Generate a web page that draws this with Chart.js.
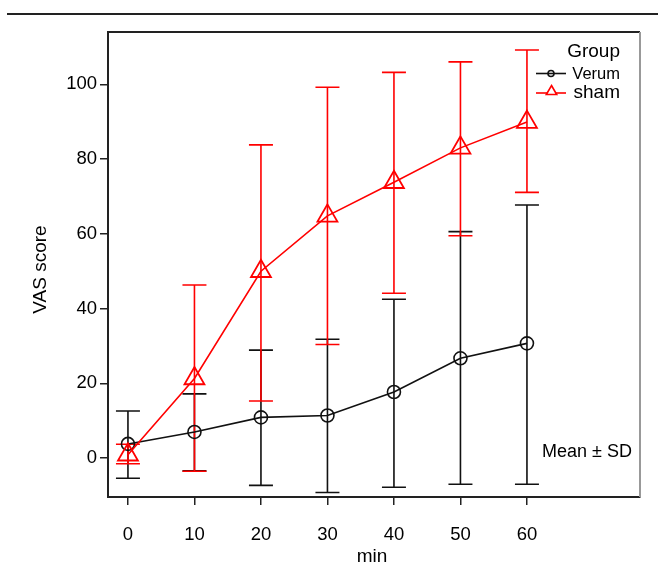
<!DOCTYPE html>
<html>
<head>
<meta charset="utf-8">
<script src="https://cdn.jsdelivr.net/npm/chart.js@4.4.1/dist/chart.umd.min.js"></script>
<style>
  html, body { margin: 0; padding: 0; background: #fff; }
  canvas { display: block; }
</style>
</head>
<body>
<canvas id="myChart" width="658" height="567"></canvas>
<script>
// time points (min) and tick labels
const minutes = [0, 10, 20, 30, 40, 50, 60];
const xTicks = [0, 10, 20, 30, 40, 50, 60];
const yTicks = [0, 20, 40, 60, 80, 100];

// Verum group: mean, mean+SD, mean-SD
const verumMean  = [3.8, 7.0, 10.9, 11.4, 17.7, 26.7, 30.7];
const verumUpper = [12.6, 17.2, 28.9, 31.8, 42.5, 60.6, 67.7];
const verumLower = [-5.4, -3.4, -7.3, -9.2, -7.8, -7.0, -7.0];

// sham group
const shamMean  = [0.9, 21.3, 50.0, 64.8, 73.8, 83.0, 89.9];
const shamUpper = [3.7, 46.3, 83.8, 99.2, 103.2, 106.0, 109.2];
const shamLower = [-1.5, -3.5, 15.3, 30.4, 44.1, 59.5, 71.1];

const FONT = '"Liberation Sans", Arial, sans-serif';
const BLACK = '#111';
const RED = '#ff0000';

function points(xs, ys) {
  return xs.map((x, i) => ({ x: x, y: ys[i] }));
}

// error bars + frame + titles + legend
const extras = {
  id: 'extras',
  beforeDatasetsDraw(chart) {
    const ctx = chart.ctx;
    const xs = chart.scales.x, ys = chart.scales.y;
    const groups = [
      { up: verumUpper, lo: verumLower, color: BLACK },
      { up: shamUpper, lo: shamLower, color: RED }
    ];
    ctx.save();
    ctx.lineWidth = 1.6;
    groups.forEach(g => {
      ctx.strokeStyle = g.color;
      minutes.forEach((m, i) => {
        const px = xs.getPixelForValue(m);
        const pu = ys.getPixelForValue(g.up[i]);
        const pl = ys.getPixelForValue(g.lo[i]);
        ctx.beginPath();
        ctx.moveTo(px, pu); ctx.lineTo(px, pl);
        ctx.moveTo(px - 12, pu); ctx.lineTo(px + 12, pu);
        ctx.moveTo(px - 12, pl); ctx.lineTo(px + 12, pl);
        ctx.stroke();
      });
    });
    ctx.restore();
  },
  afterDraw(chart) {
    const ctx = chart.ctx;
    const a = chart.chartArea;
    ctx.save();
    // rule at top of figure
    ctx.strokeStyle = '#222';
    ctx.lineWidth = 2;
    ctx.beginPath();
    ctx.moveTo(7, 14); ctx.lineTo(658, 14);
    ctx.stroke();
    // frame top and right
    ctx.beginPath();
    ctx.moveTo(a.left, a.top); ctx.lineTo(a.right, a.top);
    ctx.stroke();
    ctx.strokeStyle = '#999';
    ctx.beginPath();
    ctx.moveTo(a.right, a.top); ctx.lineTo(a.right, a.bottom);
    ctx.stroke();

    // axis titles
    ctx.fillStyle = '#000';
    ctx.font = '19px ' + FONT;
    ctx.textAlign = 'center';
    ctx.textBaseline = 'middle';
    ctx.fillText('min', (a.left + a.right) / 2 - 2, 557);
    ctx.save();
    ctx.translate(41, (a.top + a.bottom) / 2 + 5);
    ctx.rotate(-Math.PI / 2);
    ctx.fillText('VAS score', 0, 0);
    ctx.restore();

    // note
    ctx.font = '18px ' + FONT;
    ctx.textAlign = 'right';
    ctx.fillText('Mean \u00b1 SD', 632, 452);

    // legend
    ctx.font = '19px ' + FONT;
    ctx.fillText('Group', 620, 52);
    ctx.font = '16.5px ' + FONT;
    ctx.fillText('Verum', 620, 74);
    ctx.font = '19px ' + FONT;
    ctx.fillText('sham', 620, 93);

    ctx.lineWidth = 1.6;
    ctx.strokeStyle = BLACK;
    ctx.beginPath();
    ctx.moveTo(536, 73.5); ctx.lineTo(566, 73.5);
    ctx.stroke();
    ctx.beginPath();
    ctx.arc(551, 73.5, 3, 0, Math.PI * 2);
    ctx.stroke();

    ctx.strokeStyle = RED;
    ctx.beginPath();
    ctx.moveTo(536, 93); ctx.lineTo(566, 93);
    ctx.stroke();
    const r = 6, cx = 551.5, cy = 91.5;
    ctx.beginPath();
    ctx.moveTo(cx, cy - r);
    ctx.lineTo(cx + r * Math.sqrt(3) / 2, cy + r / 2);
    ctx.lineTo(cx - r * Math.sqrt(3) / 2, cy + r / 2);
    ctx.closePath();
    ctx.fillStyle = '#fff';
    ctx.fill();
    ctx.stroke();
    ctx.restore();
  }
};

const ctx = document.getElementById('myChart');

new Chart(ctx, {
  type: 'line',
  data: {
    datasets: [
      {
        label: 'sham',
        data: points(minutes, shamMean),
        borderColor: RED,
        borderWidth: 1.6,
        pointStyle: 'triangle',
        pointRadius: 11.5,
        pointBorderWidth: 1.8,
        pointBorderColor: RED,
        pointBackgroundColor: 'rgba(0,0,0,0)',
        tension: 0
      },
      {
        label: 'Verum',
        data: points(minutes, verumMean),
        borderColor: BLACK,
        borderWidth: 1.6,
        pointStyle: 'circle',
        pointRadius: 6.5,
        pointBorderWidth: 1.6,
        pointBorderColor: BLACK,
        pointBackgroundColor: 'rgba(0,0,0,0)',
        tension: 0
      }
    ]
  },
  options: {
    responsive: false,
    animation: false,
    devicePixelRatio: 1,
    layout: { padding: { left: 0, right: 18, top: 32, bottom: 0 } },
    plugins: {
      legend: { display: false },
      tooltip: { enabled: false }
    },
    scales: {
      x: {
        type: 'linear',
        min: -3,
        max: 77,
        afterBuildTicks: s => { s.ticks = xTicks.map(v => ({ value: v })); },
        afterFit: s => { s.height = 70; },
        grid: { drawOnChartArea: false, drawTicks: true, tickLength: 8, color: '#222', lineWidth: 1.5 },
        border: { display: true, color: '#222', width: 2 },
        ticks: { color: '#000', font: { family: FONT, size: 18.5 }, padding: 19, maxRotation: 0 }
      },
      y: {
        min: -10.4,
        max: 114,
        afterBuildTicks: s => { s.ticks = yTicks.map(v => ({ value: v })); },
        afterFit: s => { s.width = 108; },
        grid: { drawOnChartArea: false, drawTicks: true, tickLength: 8, color: '#222', lineWidth: 1.5 },
        border: { display: true, color: '#222', width: 2 },
        ticks: { color: '#000', font: { family: FONT, size: 18.5 }, padding: 3 }
      }
    }
  },
  plugins: [extras]
});
</script>
</body>
</html>
